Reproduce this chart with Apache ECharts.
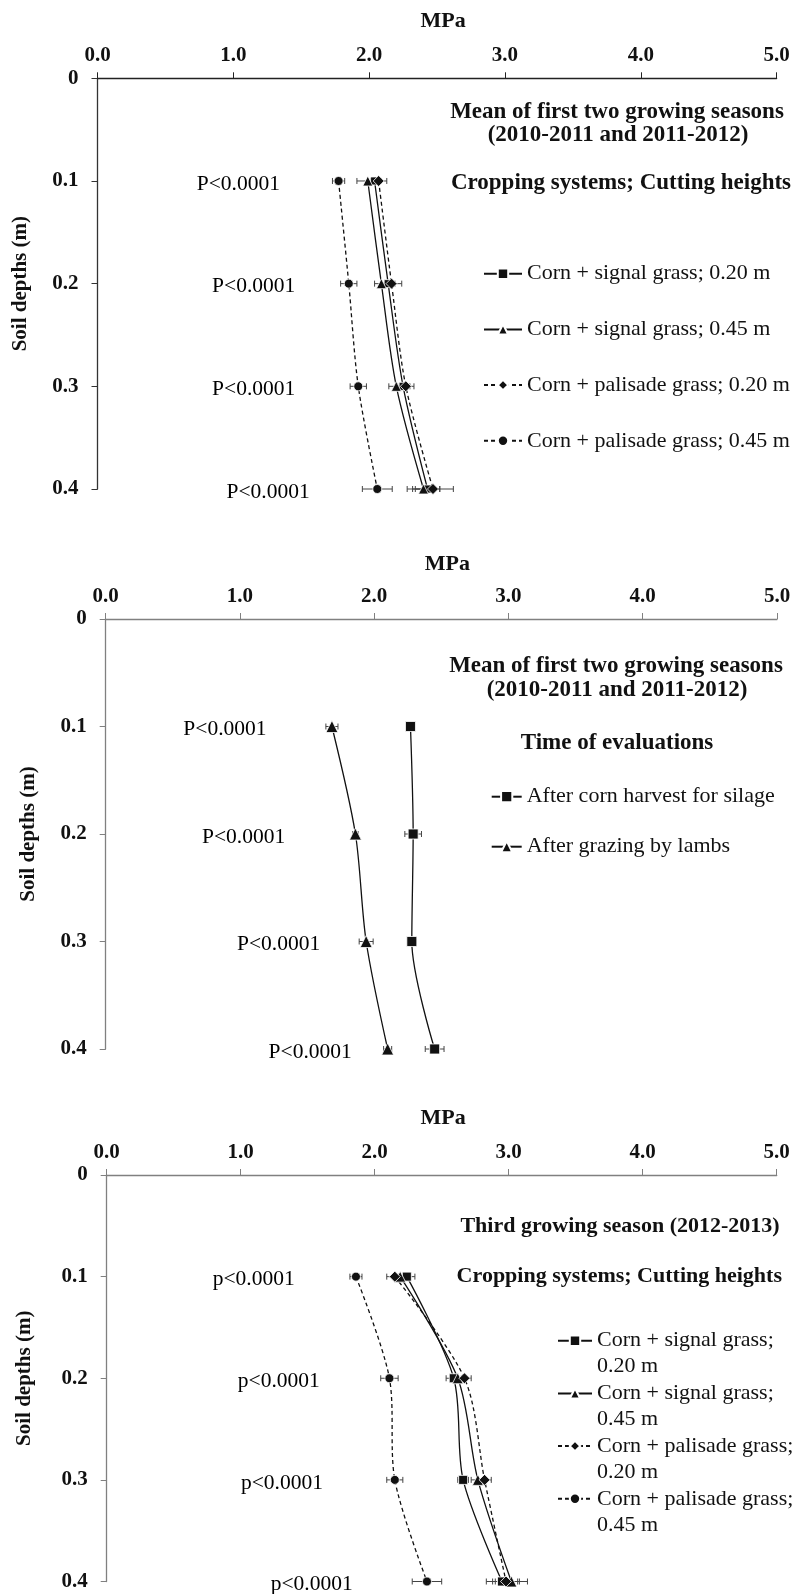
<!DOCTYPE html>
<html><head><meta charset="utf-8">
<script src="https://cdn.jsdelivr.net/npm/echarts@6/dist/echarts.min.js"></script>
<style>html,body{margin:0;padding:0;background:#fff}#c{width:807px;height:1594px}</style>
</head><body><div id="c"></div>
<script>
// ---------- data ----------
const depths = [0.1, 0.2, 0.3, 0.4];
const xTickLabels = ['0.0', '1.0', '2.0', '3.0', '4.0', '5.0'];
const yTickLabels = ['0', '0.1', '0.2', '0.3', '0.4'];

const cropNames = ['Corn + signal grass; 0.20 m', 'Corn + signal grass; 0.45 m',
                   'Corn + palisade grass; 0.20 m', 'Corn + palisade grass; 0.45 m'];
const timeNames = ['After corn harvest for silage', 'After grazing by lambs'];

// Panel 1: mean of first two growing seasons, cropping systems
const p1Signal020 = [2.04, 2.14, 2.25, 2.43];
const p1Signal020Err = [0.05, 0.05, 0.05, 0.09];
const p1Signal045 = [1.99, 2.09, 2.20, 2.40];
const p1Signal045Err = [0.08, 0.05, 0.055, 0.12];
const p1Palisade020 = [2.07, 2.165, 2.27, 2.47];
const p1Palisade020Err = [0.06, 0.075, 0.06, 0.15];
const p1Palisade045 = [1.775, 1.85, 1.92, 2.06];
const p1Palisade045Err = [0.045, 0.06, 0.06, 0.11];
const p1PText = ['P<0.0001', 'P<0.0001', 'P<0.0001', 'P<0.0001'];
const p1PTextX = [1.037, 1.15, 1.15, 1.256];

// Panel 2: mean of first two growing seasons, time of evaluations
const p2Harvest = [2.27, 2.29, 2.28, 2.45];
const p2HarvestErr = [0.02, 0.062, 0.03, 0.07];
const p2Grazing = [1.685, 1.86, 1.94, 2.10];
const p2GrazingErr = [0.045, 0.02, 0.052, 0.03];
const p2PText = ['P<0.0001', 'P<0.0001', 'P<0.0001', 'P<0.0001'];
const p2PTextX = [0.888, 1.027, 1.288, 1.523];

// Panel 3: third growing season
const p3Signal020 = [2.24, 2.59, 2.66, 2.95];
const p3Signal020Err = [0.06, 0.057, 0.04, 0.117];
const p3Signal045 = [2.19, 2.62, 2.77, 3.02];
const p3Signal045Err = [0.05, 0.05, 0.05, 0.12];
const p3Palisade020 = [2.15, 2.67, 2.82, 2.98];
const p3Palisade020Err = [0.06, 0.05, 0.05, 0.10];
const p3Palisade045 = [1.86, 2.11, 2.15, 2.39];
const p3Palisade045Err = [0.045, 0.065, 0.06, 0.11];
const p3PText = ['p<0.0001', 'p<0.0001', 'p<0.0001', 'p<0.0001'];
const p3PTextX = [1.097, 1.284, 1.308, 1.530];

// ---------- styling helpers ----------
const SERIF = '"Liberation Serif", "Times New Roman", serif';
const INK = '#111';

function lineSeries(name, vals, g, symbol, size, dashed) {
  return {
    type: 'line', name: name, xAxisIndex: g, yAxisIndex: g,
    data: vals.map((v, i) => [v, depths[i]]),
    smooth: 0.3, symbol: symbol, symbolSize: size, showSymbol: true,
    lineStyle: { color: INK, width: 1.3, type: dashed ? [4, 3] : 'solid' },
    itemStyle: { color: INK, borderColor: '#fff', borderWidth: 0.8 },
    emphasis: { disabled: true }, z: 3, animation: false
  };
}
function errRender(params, api) {
  const x = api.value(0), y = api.value(1), e = api.value(2);
  const a = api.coord([x - e, y]), b = api.coord([x + e, y]);
  const h = 3, st = { stroke: '#444', lineWidth: 1 };
  return { type: 'group', children: [
    { type: 'line', shape: { x1: a[0], y1: a[1], x2: b[0], y2: b[1] }, style: st },
    { type: 'line', shape: { x1: a[0], y1: a[1] - h, x2: a[0], y2: a[1] + h }, style: st },
    { type: 'line', shape: { x1: b[0], y1: b[1] - h, x2: b[0], y2: b[1] + h }, style: st }
  ]};
}
function errSeries(vals, errs, g) {
  return {
    type: 'custom', name: 'err', xAxisIndex: g, yAxisIndex: g,
    data: vals.map((v, i) => [v, depths[i], errs[i]]),
    encode: { x: 0, y: 1 }, renderItem: errRender, z: 2, silent: true, animation: false
  };
}
function pSeries(xs, texts, g) {
  return {
    type: 'scatter', name: 'p', xAxisIndex: g, yAxisIndex: g,
    data: xs.map((x, i) => [x, depths[i], texts[i]]),
    symbolSize: 1, itemStyle: { color: 'rgba(0,0,0,0)' }, silent: true, animation: false,
    label: { show: true, position: 'inside', formatter: p => p.value[2],
             fontFamily: SERIF, fontSize: 21.5, color: '#000', opacity: 1,
             textBorderWidth: 0, textBorderColor: 'transparent', offset: [0, 3] }
  };
}
function xAxis(g, color, gap, padLeft) {
  return {
    type: 'value', gridIndex: g, position: 'top', min: 0, max: 5, interval: 1,
    name: 'MPa', nameLocation: 'middle', nameGap: gap,
    nameTextStyle: { fontFamily: SERIF, fontWeight: 'bold', fontSize: 22, color: INK, padding: [0, 0, 0, padLeft] },
    axisLine: { show: true, onZero: false, lineStyle: { color: color, width: 1.3 } },
    axisTick: { show: true, length: 6, lineStyle: { color: color, width: 1 } },
    axisLabel: { margin: 12, fontFamily: SERIF, fontWeight: 'bold', fontSize: 21, color: INK,
                 formatter: v => xTickLabels[Math.round(v)] },
    splitLine: { show: false }
  };
}
function yAxis(g, color, gap) {
  return {
    type: 'value', gridIndex: g, inverse: true, min: 0, max: 0.4, interval: 0.1,
    name: 'Soil depths (m)', nameLocation: 'middle', nameGap: gap,
    nameTextStyle: { fontFamily: SERIF, fontWeight: 'bold', fontSize: 21, color: INK },
    axisLine: { show: true, onZero: false, lineStyle: { color: color, width: 1.3 } },
    axisTick: { show: true, length: 6, lineStyle: { color: color, width: 1 } },
    axisLabel: { margin: 19, fontFamily: SERIF, fontWeight: 'bold', fontSize: 21, color: INK,
                 formatter: v => yTickLabels[Math.round(v * 10)] },
    splitLine: { show: false }
  };
}
function heading(text, x, y, size) {
  return { type: 'text', x: x, y: y, silent: true,
    style: { text: text, font: 'bold ' + size + 'px ' + SERIF, fill: INK, align: 'center', verticalAlign: 'middle' } };
}
const legendText = { fontFamily: SERIF, fontSize: 22, color: INK, lineHeight: 22 };

const chart = echarts.init(document.getElementById('c'), null, { renderer: 'canvas' });
chart.setOption({
  backgroundColor: '#fff',
  animation: false,
  grid: [
    { left: 97.5, top: 78.3, width: 679.1, height: 410.7 },
    { left: 105.7, top: 619, width: 671.3, height: 430 },
    { left: 106.7, top: 1175, width: 670, height: 406.5 }
  ],
  xAxis: [xAxis(0, '#222', 46, 12), xAxis(1, '#808080', 44, 12), xAxis(2, '#808080', 46, 3)],
  yAxis: [yAxis(0, '#333', 66), yAxis(1, '#808080', 67), yAxis(2, '#808080', 72)],
  legend: [
    { data: cropNames, orient: 'vertical', left: 483, top: 262.7, itemWidth: 38, itemHeight: 13,
      itemGap: 33.7, padding: 0, selectedMode: false, textStyle: legendText },
    { data: timeNames, orient: 'vertical', left: 490.7, top: 785.7, itemWidth: 30, itemHeight: 14,
      itemGap: 28, padding: 0, selectedMode: false, textStyle: legendText },
    { data: cropNames, orient: 'vertical', left: 557, top: 1301.7, itemWidth: 34, itemHeight: 13,
      itemGap: -25.3, padding: 0, selectedMode: false,
      formatter: n => '\n' + n.replace('; ', ';\n'),
      textStyle: { fontFamily: SERIF, fontSize: 22, color: INK, lineHeight: 26 } }
  ],
  graphic: [
    heading('Mean of first two growing seasons', 617, 112, 23),
    heading('(2010-2011 and 2011-2012)', 618, 135, 23),
    heading('Cropping systems; Cutting heights', 621, 183, 23),
    heading('Mean of first two growing seasons', 616, 666, 23),
    heading('(2010-2011 and 2011-2012)', 617, 690, 23),
    heading('Time of evaluations', 617, 743.3, 23),
    heading('Third growing season (2012-2013)', 620, 1226.7, 22),
    heading('Cropping systems; Cutting heights', 619.3, 1276.7, 22)
  ],
  series: [
    errSeries(p1Signal020, p1Signal020Err, 0),
    errSeries(p1Signal045, p1Signal045Err, 0),
    errSeries(p1Palisade020, p1Palisade020Err, 0),
    errSeries(p1Palisade045, p1Palisade045Err, 0),
    lineSeries(cropNames[0], p1Signal020, 0, 'rect', 8, false),
    lineSeries(cropNames[1], p1Signal045, 0, 'triangle', 10, false),
    lineSeries(cropNames[2], p1Palisade020, 0, 'diamond', 11, true),
    lineSeries(cropNames[3], p1Palisade045, 0, 'circle', 9, true),
    pSeries(p1PTextX, p1PText, 0),

    errSeries(p2Harvest, p2HarvestErr, 1),
    errSeries(p2Grazing, p2GrazingErr, 1),
    lineSeries(timeNames[0], p2Harvest, 1, 'rect', 10, false),
    lineSeries(timeNames[1], p2Grazing, 1, 'triangle', 12, false),
    pSeries(p2PTextX, p2PText, 1),

    errSeries(p3Signal020, p3Signal020Err, 2),
    errSeries(p3Signal045, p3Signal045Err, 2),
    errSeries(p3Palisade020, p3Palisade020Err, 2),
    errSeries(p3Palisade045, p3Palisade045Err, 2),
    lineSeries(cropNames[0], p3Signal020, 2, 'rect', 9, false),
    lineSeries(cropNames[1], p3Signal045, 2, 'triangle', 11, false),
    lineSeries(cropNames[2], p3Palisade020, 2, 'diamond', 11, true),
    lineSeries(cropNames[3], p3Palisade045, 2, 'circle', 9, true),
    pSeries(p3PTextX, p3PText, 2)
  ]
});
</script></body></html>
